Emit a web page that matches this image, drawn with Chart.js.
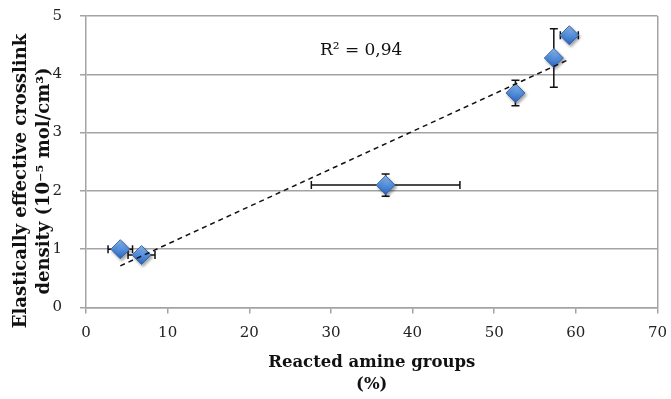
<!DOCTYPE html>
<html>
<head>
<meta charset="utf-8">
<script src="https://cdn.jsdelivr.net/npm/chart.js@4/dist/chart.umd.min.js"></script>
<style>
  html, body { margin: 0; padding: 0; background: #ffffff; }
  #wrap { width: 671px; height: 399px; }
</style>
</head>
<body>
<div id="wrap"><canvas id="c" width="671" height="399"></canvas></div>
<script>
// ---- data ----
const reactedAmine = [4.2, 6.8, 36.7, 52.6, 57.3, 59.2];      // x, %
const crosslinkDensity = [1.0, 0.9, 2.1, 3.68, 4.28, 4.67];   // y, 10^-5 mol/cm3
const xError = [1.5, 1.65, 9.1, 0, 0, 1.1];
const yError = [0, 0, 0.19, 0.22, 0.5, 0];
const xTicks = [0, 10, 20, 30, 40, 50, 60, 70];
const yTicks = [0, 1, 2, 3, 4, 5];
const r2Label = 'R² = 0,94';
const r2Pos = [33.7, 4.41];
const xTitle = ['Reacted amine groups', '(%)'];
const yTitle = ['Elastically effective crosslink', 'density (10⁻⁵ mol/cm³)'];

// least-squares trendline from the data
const n = reactedAmine.length;
const mx = reactedAmine.reduce((a, b) => a + b, 0) / n;
const my = crosslinkDensity.reduce((a, b) => a + b, 0) / n;
let sxy = 0, sxx = 0;
for (let i = 0; i < n; i++) { sxy += (reactedAmine[i] - mx) * (crosslinkDensity[i] - my); sxx += (reactedAmine[i] - mx) ** 2; }
const slope = sxy / sxx, intercept = my - slope * mx;
const xMin = Math.min(...reactedAmine), xMax = Math.max(...reactedAmine);
const trend = [{x: xMin, y: intercept + slope * xMin}, {x: xMax, y: intercept + slope * xMax}];

const points = reactedAmine.map((x, i) => ({x, y: crosslinkDensity[i]}));

const GRAY = '#a3a3a3';
const SERIF = '"DejaVu Serif", serif';

const errorBars = {
  id: 'errorBars',
  beforeDatasetsDraw(chart) {
    const {ctx, scales: {x, y}} = chart;
    ctx.save();
    ctx.strokeStyle = '#111';
    ctx.lineWidth = 1.5;
    const cap = 4;
    points.forEach((p, i) => {
      const px = x.getPixelForValue(p.x), py = y.getPixelForValue(p.y);
      if (xError[i] > 0) {
        const x1 = x.getPixelForValue(p.x - xError[i]), x2 = x.getPixelForValue(p.x + xError[i]);
        ctx.beginPath();
        ctx.moveTo(x1, py); ctx.lineTo(x2, py);
        ctx.moveTo(x1, py - cap); ctx.lineTo(x1, py + cap);
        ctx.moveTo(x2, py - cap); ctx.lineTo(x2, py + cap);
        ctx.stroke();
      }
      if (yError[i] > 0) {
        const y1 = y.getPixelForValue(p.y - yError[i]), y2 = y.getPixelForValue(p.y + yError[i]);
        ctx.beginPath();
        ctx.moveTo(px, y1); ctx.lineTo(px, y2);
        ctx.moveTo(px - cap, y1); ctx.lineTo(px + cap, y1);
        ctx.moveTo(px - cap, y2); ctx.lineTo(px + cap, y2);
        ctx.stroke();
      }
    });
    ctx.restore();
  },
  beforeDatasetDraw(chart, args) {
    if (args.index === 1) {
      const ctx = chart.ctx;
      ctx.save();
      ctx.shadowColor = 'rgba(0,0,0,0.35)';
      ctx.shadowBlur = 3;
      ctx.shadowOffsetX = 1.5;
      ctx.shadowOffsetY = 2;
    }
  },
  afterDatasetDraw(chart, args) {
    if (args.index === 1) chart.ctx.restore();
  },
  afterDraw(chart) {
    const {ctx, scales: {x, y}} = chart;
    ctx.save();
    ctx.fillStyle = '#111';
    ctx.textAlign = 'center';
    ctx.textBaseline = 'middle';
    ctx.font = '17px ' + SERIF;
    ctx.fillText(r2Label, x.getPixelForValue(r2Pos[0]), y.getPixelForValue(r2Pos[1]));
    // y-axis title (two lines, rotated)
    ctx.font = 'bold 18px ' + SERIF;
    ctx.translate(21, 181);
    ctx.rotate(-Math.PI / 2);
    ctx.fillText(yTitle[0], 0, 0);
    ctx.fillText(yTitle[1], 0, 23);
    ctx.restore();
  }
};

function markerFill(c) {
  const chart = c.chart;
  const fallback = '#4f8ad9';
  if (!chart.scales || !chart.scales.y || !c.raw) return fallback;
  const py = chart.scales.y.getPixelForValue(c.raw.y);
  if (!Number.isFinite(py)) return fallback;
  const g = chart.ctx.createLinearGradient(0, py - 9, 0, py + 9);
  g.addColorStop(0, '#8dbaf0');
  g.addColorStop(0.5, '#5590dd');
  g.addColorStop(1, '#2f67bf');
  return g;
}

new Chart(document.getElementById('c'), {
  type: 'scatter',
  data: {
    datasets: [
      {
        type: 'line',
        data: trend,
        borderColor: '#111',
        borderWidth: 1.5,
        borderDash: [5, 4],
        pointRadius: 0,
        fill: false
      },
      {
        data: points,
        pointStyle: 'rectRot',
        pointRadius: 9.5,
        pointHoverRadius: 9.5,
        backgroundColor: markerFill,
        borderColor: '#3866ac',
        borderWidth: 1
      }
    ]
  },
  options: {
    responsive: false,
    devicePixelRatio: 1,
    animation: false,
    events: [],
    layout: { padding: { top: 16, right: 13.5, left: 0, bottom: 0 } },
    plugins: { legend: { display: false }, tooltip: { enabled: false } },
    scales: {
      x: {
        type: 'linear',
        min: 0, max: 70,
        afterBuildTicks: s => { s.ticks = xTicks.map(v => ({value: v})); },
        afterFit: s => { s.height = 91.5; s.paddingLeft = 0; s.paddingRight = 0; },
        border: { color: GRAY, width: 1.5 },
        grid: {
          color: c => c.index === xTicks.length - 1 ? GRAY : 'rgba(0,0,0,0)',
          tickColor: GRAY,
          lineWidth: 1.5,
          tickLength: 6,
          drawTicks: true
        },
        ticks: { color: '#222', padding: 11, font: { family: SERIF, size: 15 } },
        title: {
          display: true,
          text: xTitle,
          color: '#111',
          font: { family: SERIF, size: 16.5, weight: 'bold', lineHeight: 1.35 },
          padding: { top: 0, bottom: 3 }
        }
      },
      y: {
        type: 'linear',
        min: 0, max: 5,
        afterBuildTicks: s => { s.ticks = yTicks.map(v => ({value: v})); },
        afterFit: s => { s.width = 86; s.paddingTop = 0; s.paddingBottom = 0; },
        border: { color: GRAY, width: 1.5 },
        grid: { color: GRAY, tickColor: GRAY, lineWidth: 1.5, tickLength: 6 },
        ticks: { color: '#222', padding: 18, font: { family: SERIF, size: 15 } },
        title: { display: false }
      }
    }
  },
  plugins: [errorBars]
});
</script>
</body>
</html>
